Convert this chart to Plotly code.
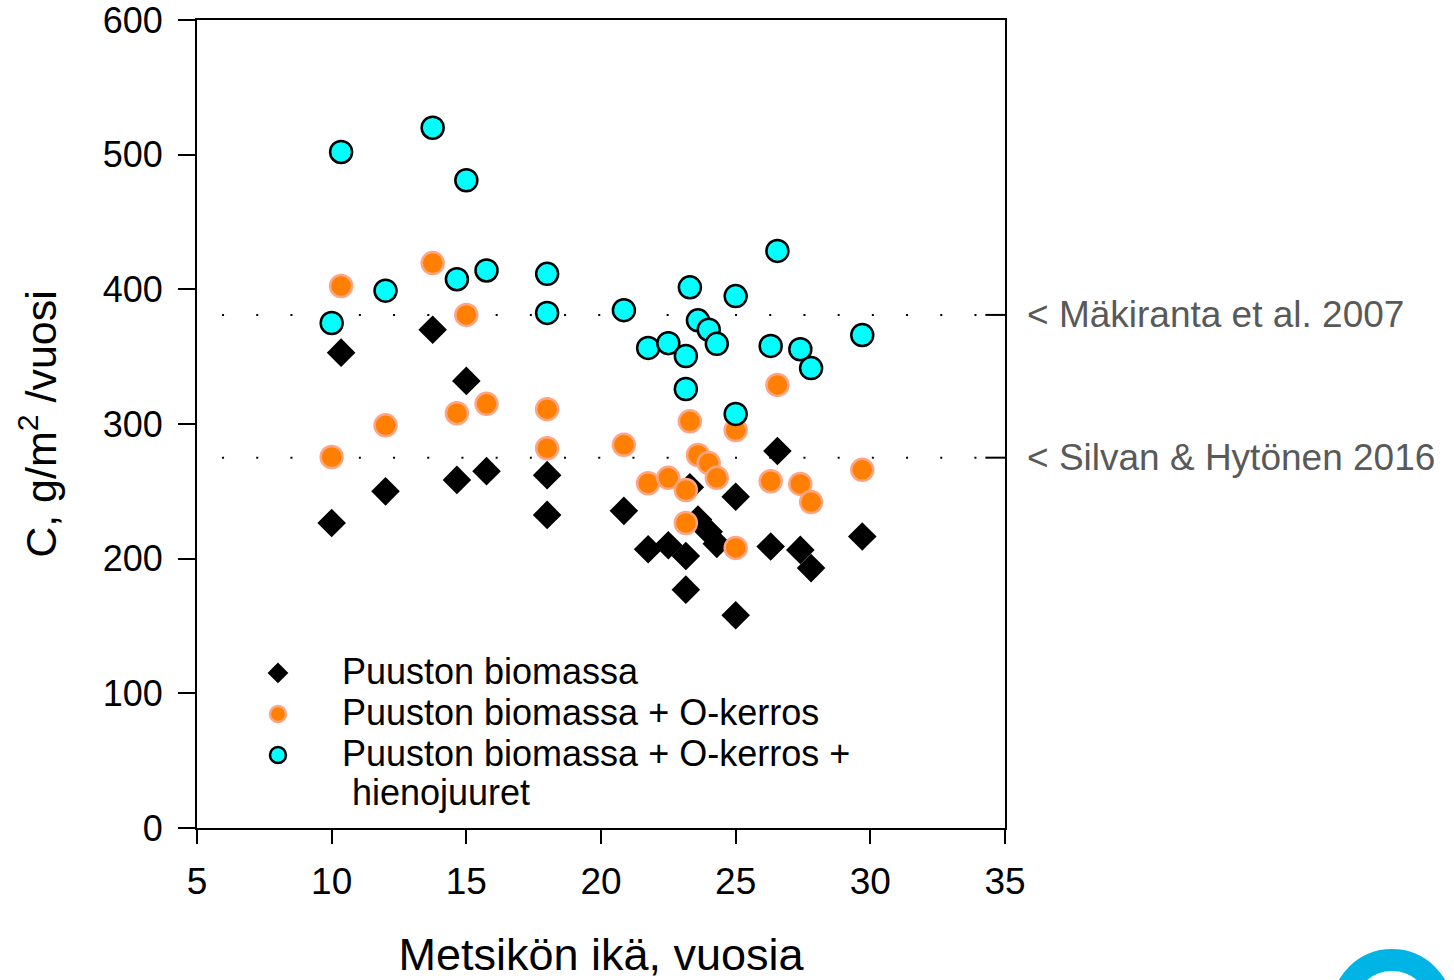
import plotly.graph_objects as go

# Stand age (years)
ages = [10.0, 10.35, 12.0, 13.75, 14.65, 15.0, 15.75, 18.0, 18.0, 20.85, 21.75, 22.5,
        23.15, 23.15, 23.3, 23.6, 24.0, 24.3, 25.0, 25.0, 26.3, 26.55, 27.4, 27.8, 29.7]
# C, g/m2/year
puusto = [226.5, 353, 250, 370, 258.5, 332, 265, 262, 232.5, 235.5, 207, 210,
          202, 177, 253, 229, 220, 211, 246, 158, 209, 280, 206.5, 193, 216.5]
puusto_o = [275.5, 402.5, 299, 419.5, 308, 381, 315, 311, 282, 284.5, 256, 260,
            251, 226.5, 302, 277, 271, 260, 295.5, 208, 257.5, 329, 255.5, 242, 266]
puusto_o_juuret = [375, 502, 399, 520, 407.5, 481, 414, 411.5, 382.5, 384.5, 356.5, 360,
                   350.5, 326, 401.5, 377, 370, 359.5, 395, 307.5, 358, 428.5, 355.5, 341.5, 366]

series_names = ["Puuston biomassa", "Puuston biomassa + O-kerros",
                "Puuston biomassa + O-kerros +<br> hienojuuret"]

ref_values = [381, 275]
ref_labels = ["< Mäkiranta et al. 2007", "< Silvan & Hytönen 2016"]

FONT = "Liberation Sans, Arial, sans-serif"


def big(s):
    return "<br>".join('<span style="font-size:36px">%s</span>' % part for part in s.split("<br>"))


fig = go.Figure()
fig.add_trace(go.Scatter(x=ages, y=puusto, mode="markers", name=big(series_names[0]),
                         marker=dict(symbol="diamond", size=22, color="black",
                                     line=dict(width=0))))
fig.add_trace(go.Scatter(x=ages, y=puusto_o, mode="markers", name=big(series_names[1]),
                         marker=dict(symbol="circle", size=22, color="#FF8000",
                                     line=dict(width=2.5, color="#FFA585"))))
fig.add_trace(go.Scatter(x=ages, y=puusto_o_juuret, mode="markers", name=big(series_names[2]),
                         marker=dict(symbol="circle", size=22, color="#00FFFF",
                                     line=dict(width=2.5, color="black"))))

shapes = []
annotations = []
for v, lab in zip(ref_values, ref_labels):
    shapes.append(dict(type="line", xref="x", yref="y", x0=5.93, x1=34.1, y0=v, y1=v,
                       line=dict(color="black", width=2, dash="2px,32.2px"), layer="below"))
    shapes.append(dict(type="line", xref="x", yref="y", x0=34.27, x1=35, y0=v, y1=v,
                       line=dict(color="black", width=2)))
    annotations.append(dict(text=lab, xref="paper", yref="y", x=1.025, y=v,
                            xanchor="left", yanchor="middle", showarrow=False,
                            font=dict(family=FONT, size=37, color="#595959")))

# logo fragment in the corner
shapes.append(dict(type="circle", xref="paper", yref="paper",
                   x0=1.4171, x1=1.5408, y0=-0.1634, y1=-0.2871,
                   line=dict(color="#00B4E6", width=22)))

fig.update_layout(
    width=1454, height=980,
    margin=dict(l=197, r=449, t=20, b=152, autoexpand=False),
    paper_bgcolor="white", plot_bgcolor="white",
    font=dict(family=FONT, size=36, color="black"),
    shapes=shapes, annotations=annotations,
    showlegend=True,
    legend=dict(x=0.021, y=0.2236, xanchor="left", yanchor="top",
                bgcolor="rgba(0,0,0,0)", font=dict(family=FONT, size=29.3),
                itemwidth=118, tracegroupgap=0, valign="top"),
    xaxis=dict(range=[5, 35], dtick=5, tick0=5, ticks="outside", ticklen=14, tickwidth=2,
               tickcolor="black", showline=True, linecolor="black", linewidth=2, mirror=True,
               showgrid=False, zeroline=False, ticklabelstandoff=6, automargin=False,
               ticklabeloverflow="allow",
               tickfont=dict(family=FONT, size=37),
               title=dict(text="Metsikön ikä, vuosia", standoff=44,
                          font=dict(family=FONT, size=45))),
    yaxis=dict(range=[0, 600], dtick=100, ticks="outside", ticklen=17, tickwidth=2,
               tickcolor="black", showline=True, linecolor="black", linewidth=2, mirror=True,
               showgrid=False, zeroline=False, ticklabelstandoff=8, automargin=False,
               ticklabeloverflow="allow",
               tickfont=dict(family=FONT, size=36),
               title=dict(text="C, g/m<sup>2</sup> /vuosi", standoff=33,
                          font=dict(family=FONT, size=43))),
)

fig.write_html("out.html", config={"displayModeBar": False},
               post_script="document.body.style.margin='0';document.body.style.overflow='hidden';")
